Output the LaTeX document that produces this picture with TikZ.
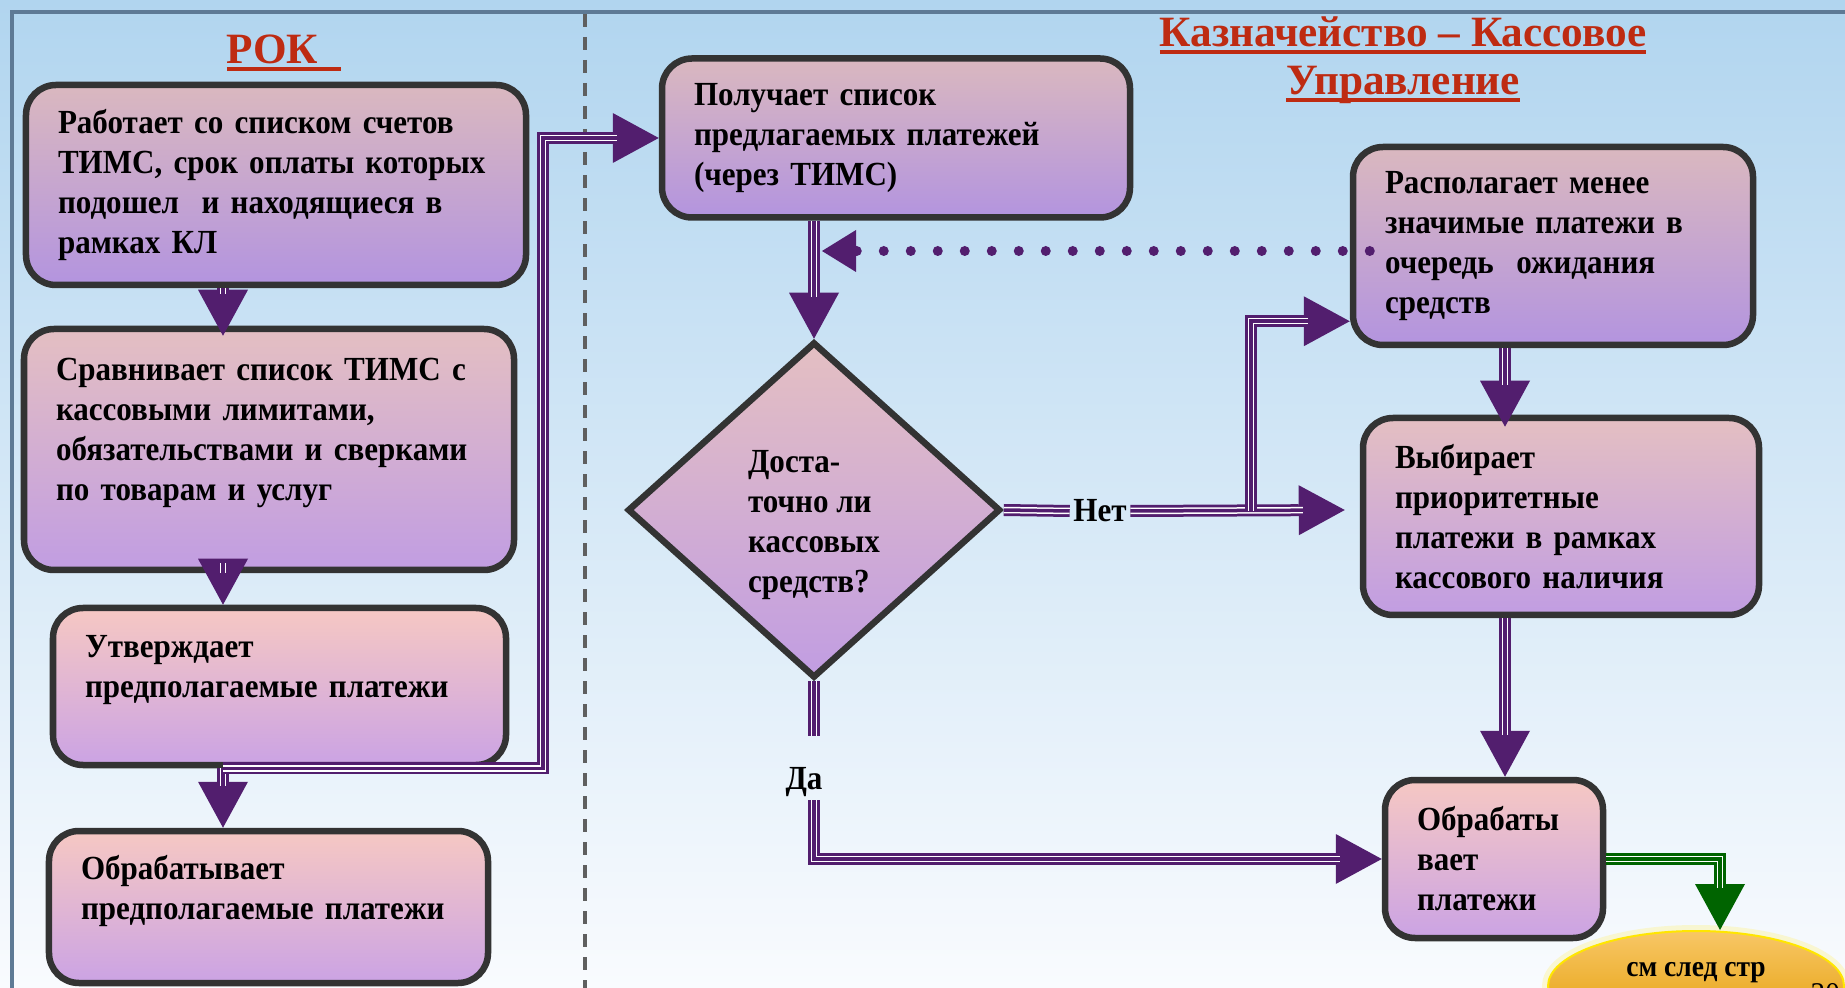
\documentclass[tikz,border=0pt]{standalone}
\usepackage{fontspec}
\setmainfont{Liberation Serif}[FakeStretch=0.92]
\newfontfamily\ttlfont{Liberation Serif}
\usetikzlibrary{arrows.meta,positioning,shapes.geometric,calc}

\definecolor{bgtop}{HTML}{B1D5EF}
\definecolor{bgmid}{HTML}{D6E8F6}
\definecolor{bgbot}{HTML}{F9FBFE}
\definecolor{framec}{HTML}{5E7A95}
\definecolor{divc}{HTML}{5F5F5F}
\definecolor{boxline}{HTML}{333333}
\definecolor{pkA}{HTML}{DAB8BF}
\definecolor{lvA}{HTML}{B394DF}
\definecolor{pkB}{HTML}{E4BFC2}
\definecolor{lvB}{HTML}{C19DE2}
\definecolor{pkC}{HTML}{F6C8C3}
\definecolor{lvC}{HTML}{CBA3E4}
\definecolor{flowc}{HTML}{521E6E}
\definecolor{grn}{HTML}{006400}
\definecolor{ttlred}{HTML}{BE2B12}
\definecolor{orgtop}{HTML}{F8C766}
\definecolor{orgbot}{HTML}{E29A00}
\definecolor{ylw}{HTML}{FFE600}

\newcommand{\boxfont}{\bfseries\fontsize{9.6}{11.4}\selectfont}
\newcommand{\titleline}[1]{\setbox0\hbox{#1}\rlap{\rule[-0.07cm]{\wd0}{0.042cm}}\box0}

\tikzset{
  conn/.style 2 args={draw=#1, line width=0.12cm,
    postaction={draw=white, line width=0.065cm, -, shorten >=#2},
    postaction={draw=#1, line width=0.035cm, -, shorten >=#2}},
  flow/.style={conn={#1}{0.42cm}, -{Triangle[length=0.46cm,width=0.50cm,line width=0pt]}},
  flow/.default=flowc,
  dotflow/.style={draw=flowc, line width=0.10cm, line cap=round,
    dash pattern=on 0pt off 0.27cm, -{Triangle[length=0.34cm,width=0.42cm,line width=0pt]}},
  procbox/.style={draw=boxline, line width=0.065cm, rounded corners=0.3cm, align=left,
    inner xsep=0.32cm, inner ysep=0.1cm, font=\boxfont, top color=pk#1, bottom color=lv#1},
  procbox/.default=B,
  decision/.style={diamond, draw=boxline, line width=0.065cm, align=left, inner sep=0pt,
    font=\boxfont, top color=pkB, bottom color=lvB},
  lbl/.style={inner sep=0.03cm, font=\boxfont},
  ttl/.style={anchor=base, inner sep=0pt, text=ttlred, font=\ttlfont\bfseries\fontsize{12.3}{14}\selectfont},
}

\begin{document}
\begin{tikzpicture}
    \useasboundingbox (0,0) rectangle (18.45,-9.88);
    \clip (0,0) rectangle (18.45,-9.88);
    % Background and frame
    \shade[top color=bgtop, middle color=bgmid, bottom color=bgbot] (0,0) rectangle (18.45,-9.88);
    \draw[framec, line width=0.045cm] (18.6,-0.12) -- (0.12,-0.12) -- (0.12,-10);
    \draw[divc, line width=0.035cm, dash pattern=on 0.13cm off 0.10cm] (5.85,-0.14) -- (5.85,-9.88);
    % Titles
    \node[ttl] (rok) at (2.84,-0.64) {\titleline{РОК\hspace{0.23cm}}};
    \node[ttl] (kaz) at (14.03,-0.47) {\titleline{Казначейство – Кассовое}};
    \node[ttl] (upr) at (14.03,-0.95) {\titleline{Управление}};
    % Left column
    \node[procbox=A, text width=4.36cm, minimum height=2cm] (b1) at (2.76,-1.85)
        {Работает со списком счетов\\ТИМС, срок оплаты которых\\подошел\ \ и находящиеся в\\рамках КЛ};
    \node[procbox=B, text width=4.26cm, minimum height=2.41cm] (b2) at (2.69,-4.495)
        {Сравнивает список ТИМС с\\кассовыми лимитами,\\обязательствами и сверками\\по товарам и услуг\\~};
    \node[procbox=C, text width=3.89cm, minimum height=1.57cm] (b3) at (2.795,-6.865)
        {Утверждает\\предполагаемые платежи\\~};
    \node[procbox=C, text width=3.75cm, minimum height=1.52cm] (b4) at (2.685,-9.07)
        {Обрабатывает\\предполагаемые платежи\\~};
    % Right part
    \node[procbox=A, text width=4.04cm, minimum height=1.59cm] (b5) at (8.96,-1.38)
        {Получает список\\предлагаемых платежей\\(через ТИМС)};
    \node[decision, minimum width=3.73cm, minimum height=3.36cm] (dec) at (8.14,-5.10)
        {~\\[0.12cm]Доста-\\точно ли\\кассовых\\средств?};
    \node[procbox=A, text width=3.36cm, minimum height=1.98cm] (b6) at (15.53,-2.46)
        {Располагает менее\\значимые платежи в\\очередь\ \ ожидания\\средств};
    \node[procbox=B, text width=3.32cm, minimum height=1.97cm] (b7) at (15.61,-5.165)
        {Выбирает\\приоритетные\\платежи в рамках\\кассового наличия};
    \node[procbox=C, text width=1.54cm, minimum height=1.58cm] (b8) at (14.94,-8.59)
        {Обрабаты\\вает\\платежи};
    \node[ellipse, draw=ylw, line width=0.02cm, top color=orgtop, bottom color=orgbot,
        preaction={draw=ylw!50, line width=0.12cm, opacity=0.35},
        minimum width=2.96cm, minimum height=1.1cm, inner sep=0.05cm,
        text height=0.15cm, text depth=0.35cm, font=\bfseries\fontsize{8.5}{9}\selectfont] (ell) at (16.96,-9.86) {см след стр};
    \node[anchor=north west, inner sep=0pt, font=\fontsize{9}{10}\selectfont] (pg) at (18.10,-9.83) {30};
    \node[lbl] (net) at (11.0,-5.11) {Нет};
    \node[lbl] (da) at (8.04,-7.82) {Да};
    % Connectors
    \coordinate (colL) at (2.23,0);
    \coordinate (riser) at (5.43,0);
    \coordinate (colR) at (15.05,0);
    \coordinate (jn) at (12.51,-5.11);
    \coordinate (gx) at (17.20,0);
    \draw[flow] (b1.south -| colL) -- ($(b2.north -| colL)+(0,-0.1)$);
    \draw[flow] (b2.south -| colL) -- (b3.north -| colL);
    \draw[flow] (b3.south -| colL) -- (b4.north -| colL);
    \draw[flow] (b3.south -| colL) -- (b3.south -| riser) -- (b5.west -| riser) -- (b5.west);
    \draw[flow] (b5.south -| dec.north) -- (dec.north);
    \draw[dotflow] ($(b6.west)+(0.2,-0.05)$) -- ($(b6.west -| dec.north)+(0.08,-0.05)$);
    \draw[conn={flowc}{0cm}] (dec.east) -- (net.west);
    \draw[flow] (net.east) -- ($(b7.west |- dec.east)+(-0.15,0)$);
    \draw[flow] (jn) |- ($(b6.south west)+(0,0.27)$);
    \draw[flow] (b6.south -| colR) -- ($(b7.north -| colR)+(0,-0.12)$);
    \draw[flow] (b7.south -| colR) -- (b8.north -| colR);
    \draw[conn={flowc}{0cm}] (dec.south) -- ($(da.north -| dec.south)+(0,0.28)$);
    \draw[flow] (da.south -| dec.south) |- (b8.west);
    \draw[flow=grn] (b8.east) -| (ell.north -| gx);
\end{tikzpicture}
\end{document}
